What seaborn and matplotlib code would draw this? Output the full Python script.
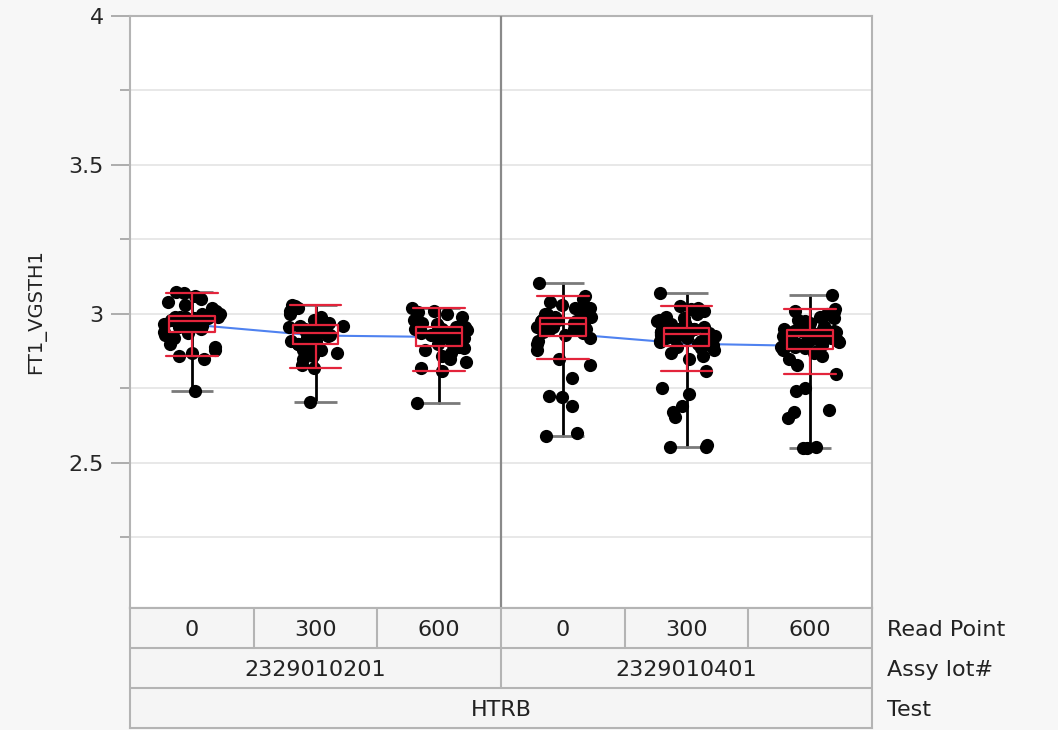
import numpy as np
import pandas as pd
import seaborn as sns
from matplotlib import pyplot as plt

# values, one list per cell (Assy lot x Read Point)
lots = ['2329010201', '2329010401']
read_points = ['0', '300', '600']
test_name = 'HTRB'

lot1_rp0 = [2.74, 2.85, 2.86, 2.87, 2.88, 2.89, 2.90, 2.92, 2.93, 2.935,
            2.94, 2.945, 2.95, 2.955, 2.96, 2.96, 2.965, 2.97, 2.97, 2.975,
            2.975, 2.98, 2.98, 2.98, 2.985, 2.985, 2.99, 2.99, 2.99, 2.99,
            3.00, 3.00, 3.01, 3.02, 3.03, 3.04, 3.05, 3.06, 3.07, 3.075]
lot1_rp300 = [2.705, 2.82, 2.83, 2.85, 2.86, 2.87, 2.88, 2.88, 2.89, 2.89,
              2.90, 2.90, 2.91, 2.91, 2.92, 2.92, 2.925, 2.93, 2.93, 2.935,
              2.935, 2.94, 2.94, 2.945, 2.95, 2.95, 2.955, 2.955, 2.96, 2.96,
              2.965, 2.97, 2.97, 2.98, 2.99, 3.00, 3.01, 3.02, 3.025, 3.03]
lot1_rp600 = [2.70, 2.81, 2.82, 2.84, 2.85, 2.86, 2.87, 2.88, 2.885, 2.89,
              2.895, 2.90, 2.905, 2.91, 2.915, 2.92, 2.925, 2.93, 2.93, 2.935,
              2.94, 2.94, 2.94, 2.945, 2.945, 2.95, 2.95, 2.95, 2.955, 2.955,
              2.96, 2.965, 2.97, 2.97, 2.98, 2.99, 3.00, 3.005, 3.01, 3.02]
lot2_rp0 = [2.59, 2.60, 2.69, 2.72, 2.725, 2.785, 2.83, 2.85, 2.88, 2.90, 2.91, 2.92,
            2.93, 2.935, 2.94, 2.945, 2.95, 2.95, 2.955, 2.955, 2.96, 2.96, 2.965, 2.965,
            2.97, 2.97, 2.97, 2.975, 2.975, 2.975, 2.98, 2.98, 2.98, 2.98, 2.985, 2.985,
            2.99, 2.99, 3.00, 3.00, 3.01, 3.02, 3.02, 3.03, 3.04, 3.05, 3.06, 3.105]
lot2_rp300 = [2.555, 2.555, 2.56, 2.655, 2.672, 2.69, 2.73, 2.75, 2.81, 2.85, 2.86, 2.87, 2.88, 2.885, 2.89,
              2.895, 2.90, 2.90, 2.905, 2.91, 2.91, 2.915, 2.92, 2.92, 2.925, 2.925, 2.93, 2.93, 2.93, 2.933,
              2.935, 2.935, 2.94, 2.94, 2.94, 2.94, 2.945, 2.945, 2.945, 2.95, 2.95, 2.95, 2.95, 2.952, 2.952,
              2.955, 2.96, 2.96, 2.965, 2.97, 2.975, 2.98, 2.985, 2.99, 3.00, 3.01, 3.015, 3.02, 3.027, 3.069]
lot2_rp600 = [2.55, 2.55, 2.555, 2.65, 2.672, 2.678, 2.74, 2.75, 2.80, 2.83, 2.85, 2.86, 2.87, 2.875, 2.88,
              2.885, 2.89, 2.89, 2.895, 2.90, 2.90, 2.905, 2.91, 2.91, 2.915, 2.915, 2.92, 2.92, 2.925, 2.925,
              2.926, 2.93, 2.93, 2.93, 2.935, 2.935, 2.935, 2.94, 2.94, 2.94, 2.94, 2.942, 2.944, 2.944, 2.944,
              2.95, 2.95, 2.955, 2.96, 2.965, 2.97, 2.975, 2.98, 2.985, 2.99, 3.00, 3.005, 3.01, 3.018, 3.064]

cell_values = {
    (lots[0], '0'): lot1_rp0, (lots[0], '300'): lot1_rp300, (lots[0], '600'): lot1_rp600,
    (lots[1], '0'): lot2_rp0, (lots[1], '300'): lot2_rp300, (lots[1], '600'): lot2_rp600,
}

rows = []
for (lot, rp), vals in cell_values.items():
    for v in vals:
        rows.append({'lot': lot, 'rp': rp, 'cell': lot + '|' + rp, 'FT1_VGSTH1': v})
df = pd.DataFrame(rows)
cells = [lot + '|' + rp for lot in lots for rp in read_points]

bg = '#f7f7f7'
frame_col = '#b4b4b4'
red = '#e3243b'
blue = '#4f82f0'

sns.set_style('white')
plt.rcParams['font.family'] = ['DejaVu Sans']
np.random.seed(3)

fig = plt.figure(figsize=(10.58, 7.30), dpi=100, facecolor=bg)
ax = fig.add_axes([130 / 1058, (730 - 608) / 730, 742 / 1058, 592 / 730])
ax.set_facecolor('white')

# grid lines (major + minor)
for g in [2.25, 2.5, 2.75, 3.0, 3.25, 3.5, 3.75]:
    ax.axhline(g, color='#e4e4e4', lw=1.2, zorder=0)

# cell means, one line per lot
sns.pointplot(data=df, x='cell', y='FT1_VGSTH1', hue='lot', order=cells,
              estimator='mean', errorbar=None, palette=[blue, blue],
              marker='none', linewidth=1.5, legend=False, ax=ax, zorder=1)

# range line from min to max
sns.pointplot(data=df, x='cell', y='FT1_VGSTH1', order=cells,
              estimator='median', errorbar=('pi', 100), color='black',
              linestyle='none', marker='none', err_kws={'linewidth': 2},
              ax=ax, zorder=1)
stats = df.groupby('cell')['FT1_VGSTH1'].agg(['min', 'max']).reindex(cells)
xpos = np.arange(len(cells))
ax.hlines(stats['min'], xpos - 0.17, xpos + 0.17, color='#7a7a7a', lw=2, zorder=1.5)
ax.hlines(stats['max'], xpos - 0.17, xpos + 0.17, color='#7a7a7a', lw=2, zorder=1.5)

sns.stripplot(data=df, x='cell', y='FT1_VGSTH1', order=cells, color='black',
              size=9.5, jitter=0.24, linewidth=0, ax=ax, zorder=2)

sns.boxplot(data=df, x='cell', y='FT1_VGSTH1', order=cells, fill=False,
            color=red, width=0.37, whis=1.5, showfliers=False, linewidth=1.6,
            capwidths=0.42, ax=ax, zorder=3)

ax.axvline(2.5, color='#8a8a8a', lw=1.6, zorder=4)

ax.set_xlim(-0.5, 5.5)
ax.set_ylim(2.013, 4.0)
ax.set_yticks([2.5, 3.0, 3.5, 4.0])
ax.set_yticklabels(['2.5', '3', '3.5', '4'])
ax.set_yticks([2.25, 2.75, 3.25, 3.75], minor=True)
ax.tick_params(axis='y', which='major', length=14, width=1.2, color='#a0a0a0',
               labelsize=16, pad=5, left=True)
ax.tick_params(axis='y', which='minor', length=7, width=1.2, color='#a0a0a0', left=True)
ax.set_xticks([])
ax.set_xlabel('')
ax.set_ylabel('FT1_VGSTH1', fontsize=14, color='#222222', labelpad=16)
for s in ax.spines.values():
    s.set_color(frame_col)
    s.set_linewidth(1.5)

# category table below the plot
tab = fig.add_axes([130 / 1058, 2 / 730, 742 / 1058, 120 / 730])
tab.set_xlim(-0.5, 5.5)
tab.set_ylim(3, 0)
tab.set_facecolor('#f5f5f5')
tab.set_xticks([])
tab.set_yticks([])
for s in tab.spines.values():
    s.set_color(frame_col)
    s.set_linewidth(1.5)
for yb in [1, 2]:
    tab.axhline(yb, color=frame_col, lw=1.5)
for i in range(1, 6):
    tab.plot([i - 0.5, i - 0.5], [0, 1], color=frame_col, lw=1.5)
tab.plot([2.5, 2.5], [1, 2], color=frame_col, lw=1.5)

fs = 16
for i, c in enumerate(cells):
    tab.text(i, 0.55, c.split('|')[1], ha='center', va='center', fontsize=fs, color='#222222')
for j, lot in enumerate(lots):
    tab.text(1 + 3 * j, 1.55, lot, ha='center', va='center', fontsize=fs, color='#222222')
tab.text(2.5, 2.55, test_name, ha='center', va='center', fontsize=fs, color='#222222')

for k, lab in enumerate(['Read Point', 'Assy lot#', 'Test']):
    tab.text(5.62, k + 0.55, lab, ha='left', va='center', fontsize=fs,
             color='#222222', clip_on=False)

fig.savefig('out.png', dpi=100, facecolor=bg)
